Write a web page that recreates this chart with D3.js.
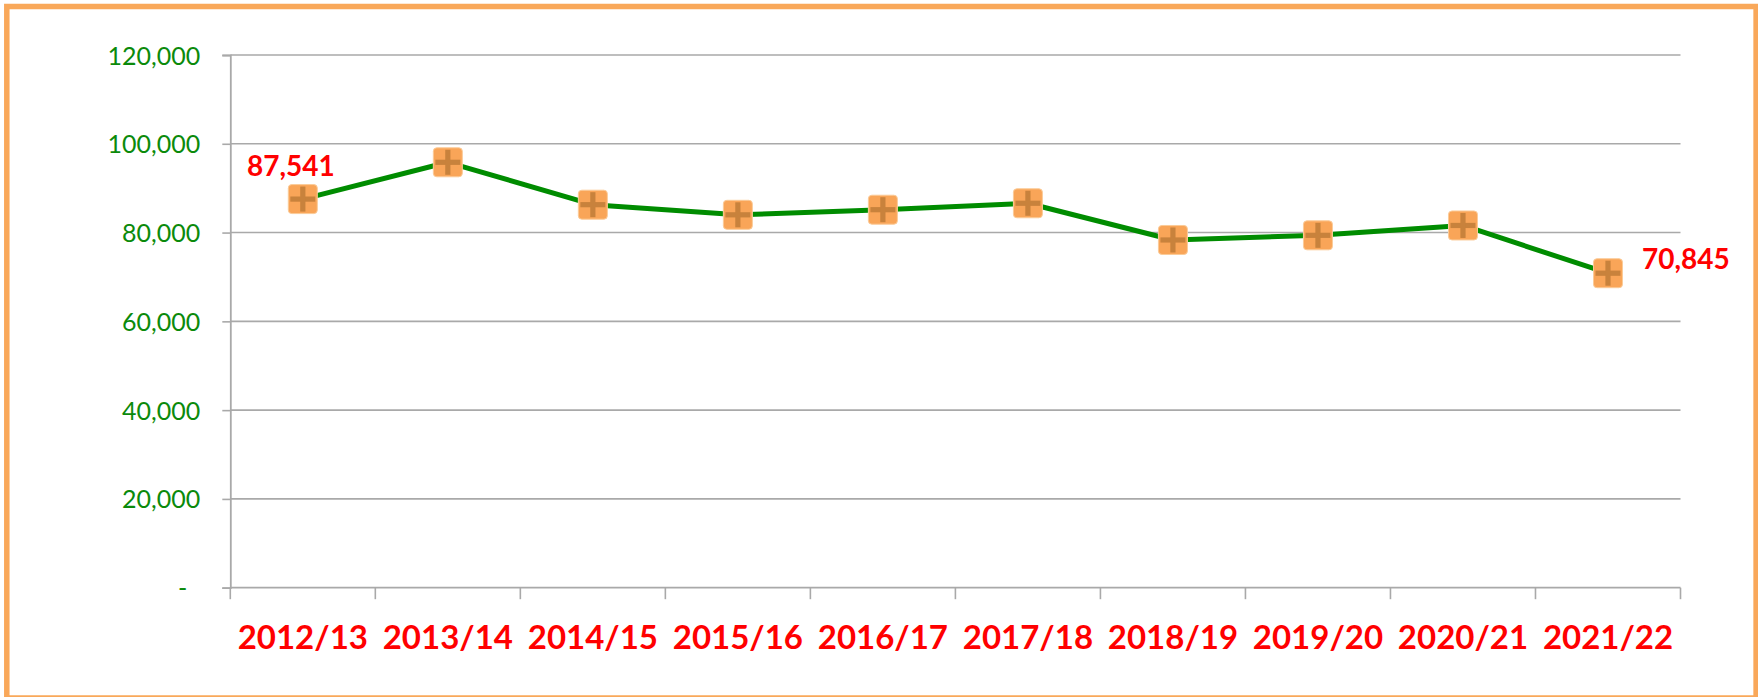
<!DOCTYPE html>
<html>
<head>
<meta charset="utf-8">
<script src="https://cdn.jsdelivr.net/npm/d3@7"></script>
<style>
  html, body { margin: 0; padding: 0; background: #ffffff; }
  svg { display: block; }
</style>
</head>
<body>
<svg id="chart" width="1758" height="697"></svg>
<script>
// ---- data ----
const categories = ["2012/13", "2013/14", "2014/15", "2015/16", "2016/17", "2017/18", "2018/19", "2019/20", "2020/21", "2021/22"];
const values = [87541, 95830, 86280, 84000, 85150, 86600, 78330, 79380, 81600, 70845];
const yTickValues = [0, 20000, 40000, 60000, 80000, 100000, 120000];
const labelledIndices = [0, 9];

// ---- layout ----
const W = 1758, H = 697;
const plot = { left: 230.3, right: 1680.5, top: 55, bottom: 587.7 };

const svg = d3.select("#chart");

// border
svg.append("rect")
  .attr("x", 6.8).attr("y", 6.5)
  .attr("width", 1749.3).attr("height", 691.5)
  .attr("fill", "#ffffff")
  .attr("stroke", "#F9A85A")
  .attr("stroke-width", 5.5);

const x = d3.scaleBand().domain(categories).range([plot.left, plot.right]).paddingInner(0).paddingOuter(0);
const y = d3.scaleLinear().domain([0, 120000]).range([plot.bottom, plot.top]);

const gridColor = "#A9A9A9";
const fmt = d3.format(",");

// gridlines
svg.append("g")
  .selectAll("line")
  .data(yTickValues.filter(v => v > 0))
  .join("line")
  .attr("x1", plot.left).attr("x2", plot.right)
  .attr("y1", d => y(d)).attr("y2", d => y(d))
  .attr("stroke", gridColor).attr("stroke-width", 1.6);

// y axis
const yAxis = d3.axisLeft(y)
  .tickValues(yTickValues)
  .tickSize(8)
  .tickPadding(22)
  .tickFormat(d => d === 0 ? "-" : fmt(d));
const gy = svg.append("g").attr("transform", `translate(${plot.left},0)`).call(yAxis);
gy.select(".domain").attr("stroke", gridColor).attr("stroke-width", 1.8);
gy.selectAll(".tick line").attr("stroke", gridColor).attr("stroke-width", 1.6);
gy.selectAll(".tick text")
  .attr("fill", "#0B8A0B")
  .style("font-family", "Lato, 'Open Sans', sans-serif")
  .style("font-size", "25px")
  .attr("dy", "0.36em")
  .attr("dx", d => d === 0 ? -13 : 0);

// x axis (labels at category centres)
const xAxis = d3.axisBottom(x).tickSize(0).tickPadding(0);
const gx = svg.append("g").attr("transform", `translate(0,${plot.bottom})`).call(xAxis);
gx.select(".domain").remove();
gx.selectAll(".tick text")
  .attr("fill", "#FF0000")
  .attr("y", 61.5)
  .attr("dy", 0)
  .style("font-family", "Lato, 'Open Sans', sans-serif")
  .style("font-weight", "bold")
  .style("font-size", "33px");

// x axis line and boundary ticks
svg.append("line")
  .attr("x1", plot.left).attr("x2", plot.right)
  .attr("y1", plot.bottom).attr("y2", plot.bottom)
  .attr("stroke", gridColor).attr("stroke-width", 1.8);
const boundaries = categories.map(c => x(c)).concat([x(categories[categories.length - 1]) + x.bandwidth()]);
svg.append("g").selectAll("line")
  .data(boundaries)
  .join("line")
  .attr("x1", d => d).attr("x2", d => d)
  .attr("y1", plot.bottom).attr("y2", plot.bottom + 11.5)
  .attr("stroke", gridColor).attr("stroke-width", 1.6);

// line
const cx = (d, i) => x(categories[i]) + x.bandwidth() / 2;
const line = d3.line().x((d, i) => cx(d, i)).y(d => y(d));
svg.append("path")
  .datum(values)
  .attr("d", line)
  .attr("fill", "none")
  .attr("stroke", "#008C00")
  .attr("stroke-width", 5)
  .attr("stroke-linejoin", "round");

// markers
const ms = 29;
const mg = svg.append("g").selectAll("g")
  .data(values)
  .join("g")
  .attr("transform", (d, i) => `translate(${cx(d, i)},${y(d)})`);
mg.append("rect")
  .attr("x", -ms / 2).attr("y", -ms / 2)
  .attr("width", ms).attr("height", ms)
  .attr("rx", 3.5)
  .attr("fill", "#F9A558")
  .attr("stroke", "#FBCB98")
  .attr("stroke-width", 1);
mg.append("rect")
  .attr("x", -12.5).attr("y", -2.6)
  .attr("width", 25).attr("height", 5.2)
  .attr("fill", "#C8823C");
mg.append("rect")
  .attr("x", -2.6).attr("y", -12.5)
  .attr("width", 5.2).attr("height", 25)
  .attr("fill", "#C8823C");

// data labels
const labelStyle = sel => sel
  .attr("fill", "#FF0000")
  .style("font-family", "Lato, 'Open Sans', sans-serif")
  .style("font-weight", "bold")
  .style("font-size", "28px");

svg.append("text")
  .attr("x", cx(values[0], 0) + 32)
  .attr("y", y(values[0]) - 23)
  .attr("text-anchor", "end")
  .text(fmt(values[labelledIndices[0]]))
  .call(labelStyle);

svg.append("text")
  .attr("x", cx(values[9], 9) + 34)
  .attr("y", y(values[9]) - 4)
  .attr("text-anchor", "start")
  .text(fmt(values[labelledIndices[1]]))
  .call(labelStyle);
</script>
</body>
</html>
